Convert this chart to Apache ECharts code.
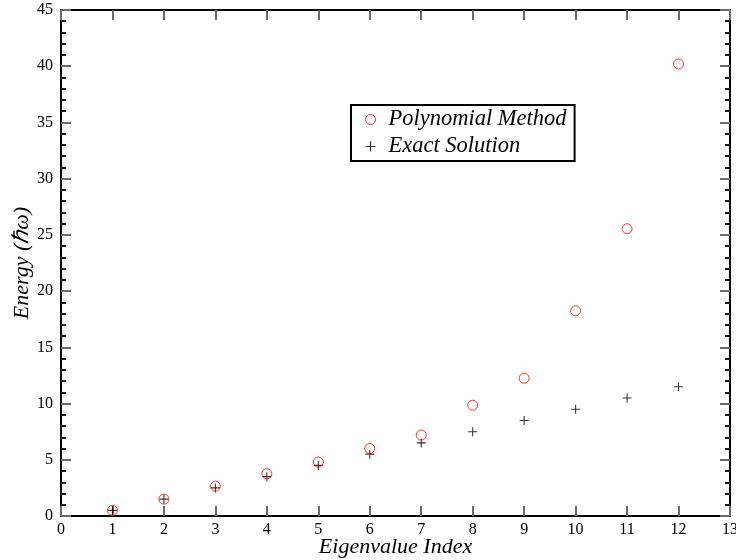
<!DOCTYPE html>
<html><head><meta charset="utf-8">
<script src="https://cdn.jsdelivr.net/npm/echarts@6/dist/echarts.min.js"></script>
<style>html,body{margin:0;padding:0;background:#fff}#c{width:736px;height:560px}</style>
</head><body><div id="c"></div>
<script>
const indices = [1,2,3,4,5,6,7,8,9,10,11,12];
const polynomial = [0.5,1.5,2.65,3.75,4.8,6.0,7.2,9.85,12.25,18.25,25.55,40.2];
const exact = [0.5,1.5,2.5,3.5,4.5,5.5,6.5,7.5,8.5,9.5,10.5,11.5];
const FONT = '"Liberation Serif","Times New Roman",serif';
const plusPath = 'path://M4.4,0H5.6V10H4.4ZM0,4.4H10V5.6H0Z';
const chart = echarts.init(document.getElementById('c'));
function ax(idx){
  return {
    axisLine:{show:true,onZero:true,onZeroAxisIndex:idx,lineStyle:{color:'#000',width:2}},
    axisTick:{show:true,inside:true,length:10,lineStyle:{color:'#6a6a6a',width:2}},
    splitLine:{show:false}
  };
}
const minor = {show:true,splitNumber:5,length:5,lineStyle:{color:'#1a1a1a',width:2}};
chart.setOption({
  animation:false,
  backgroundColor:'#fff',
  grid:{left:61,right:6,top:10,bottom:44,outerBoundsMode:'none'},
  legend:{
    left:351, top:105, orient:'vertical',
    borderColor:'#000', borderWidth:2, padding:[3,8,3,14],
    itemWidth:10, itemHeight:10, itemGap:4,
    textStyle:{fontFamily:FONT,fontStyle:'italic',fontSize:22.5,lineHeight:22,color:'#000',padding:[0,0,0,8]},
    data:[
      {name:'Polynomial Method',icon:'circle',itemStyle:{color:'#fff',borderColor:'#ff0000',borderWidth:1}},
      {name:'Exact Solution',icon:plusPath,itemStyle:{color:'#000'}}
    ]
  },
  xAxis:[
    Object.assign(ax(0), {type:'value',min:0,max:13,interval:1,position:'bottom',
      name:'Eigenvalue Index',nameLocation:'middle',nameGap:20,nameMoveOverlap:false,
      nameTextStyle:{fontFamily:FONT,fontStyle:'italic',fontSize:22,color:'#000'},
      axisLabel:{fontFamily:FONT,fontSize:16,color:'#000',margin:6}}),
    Object.assign(ax(1), {type:'value',min:-13,max:0,interval:1,position:'top',
      axisLabel:{show:false}})
  ],
  yAxis:[
    Object.assign(ax(0), {type:'value',min:0,max:45,interval:5,position:'left',
      name:'Energy (ℏω)',nameLocation:'middle',nameGap:28,nameMoveOverlap:false,
      nameTextStyle:{fontFamily:FONT,fontStyle:'italic',fontSize:22,color:'#000'},
      minorTick:minor,
      axisLabel:{fontFamily:FONT,fontSize:16,color:'#000',margin:8}}),
    Object.assign(ax(1), {type:'value',min:-45,max:0,interval:5,position:'right',
      minorTick:minor,
      axisLabel:{show:false}})
  ],
  series:[
    {name:'Polynomial Method',type:'scatter',xAxisIndex:0,yAxisIndex:0,
      data:indices.map((x,i)=>[x,polynomial[i]]),
      symbol:'circle',symbolSize:10,
      itemStyle:{color:'rgba(255,255,255,0)',borderColor:'#ff0000',borderWidth:1},z:3},
    {name:'Exact Solution',type:'scatter',xAxisIndex:0,yAxisIndex:0,
      data:indices.map((x,i)=>[x,exact[i]]),
      symbol:plusPath,symbolSize:9,
      itemStyle:{color:'#000'},z:2}
  ]
});
</script></body></html>
